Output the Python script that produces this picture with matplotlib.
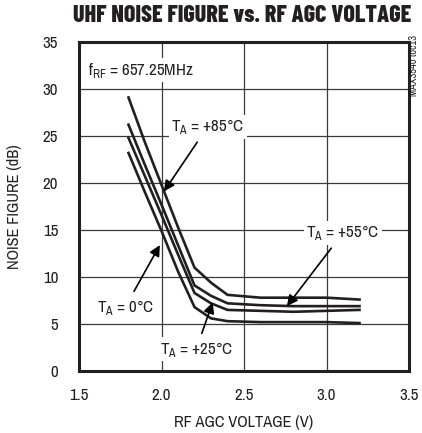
import matplotlib
matplotlib.use("Agg")
import matplotlib.pyplot as plt

body = ["Archivo Narrow", "DejaVu Sans"]
plt.rcParams['font.family'] = body
plt.rcParams['mathtext.fontset'] = 'custom'
plt.rcParams['mathtext.rm'] = 'Archivo Narrow'

x = [1.8, 1.9, 2.0, 2.1, 2.2, 2.3, 2.4, 2.6, 2.8, 3.0, 3.2]
nf_85 = [29.1, 24.3, 19.8, 15.3, 11.0, 9.4, 8.1, 7.8, 7.8, 7.8, 7.6]
nf_55 = [26.2, 21.9, 17.7, 13.4, 9.1, 8.0, 7.2, 7.0, 6.9, 6.9, 6.9]
nf_25 = [24.8, 20.7, 16.6, 12.4, 8.3, 7.2, 6.5, 6.4, 6.3, 6.4, 6.5]
nf_0 = [23.2, 19.0, 14.9, 10.6, 6.8, 5.6, 5.3, 5.2, 5.2, 5.2, 5.1]

xticks = [1.5, 2.0, 2.5, 3.0, 3.5]
xticklabels = ["1.5", "2.0", "2.5", "3.0", "3.5"]
yticks = [0, 5, 10, 15, 20, 25, 30, 35]

ink = "#231f20"
fs = 12.2
fig = plt.figure(figsize=(4.22, 4.33), dpi=100)
ax = fig.add_axes([79/422, 1-371/433, 330/422, 329/433])

for y in (nf_85, nf_55, nf_25, nf_0):
    ax.plot(x, y, color=ink, lw=1.9, solid_joinstyle="round", zorder=3)

ax.set_xlim(1.5, 3.5)
ax.set_ylim(0, 35)
ax.set_xticks(xticks)
ax.set_xticklabels(xticklabels)
ax.set_yticks(yticks)
ax.grid(True, color="#3a3a3a", lw=0.9, zorder=0)
ax.set_axisbelow(True)
ax.tick_params(length=0, labelsize=fs, colors=ink)
ax.tick_params(axis="y", pad=15)
ax.tick_params(axis="x", pad=12)
for s in ax.spines.values():
    s.set_linewidth(2.2)
    s.set_color(ink)

ax.set_xlabel("RF AGC VOLTAGE (V)", fontsize=11.8, labelpad=9, color=ink)
ax.set_ylabel("NOISE FIGURE (dB)", fontsize=11.8, labelpad=15, color=ink)
fig.text(242/422, 1-16/433, "UHF NOISE FIGURE vs. RF AGC VOLTAGE", ha="center", va="center",
         fontsize=17.3, fontweight=800, family=["Barlow Condensed", "DejaVu Sans"], color=ink)
fig.text(414/422, 1-66/433, "MAX3540 toc13", rotation=90, ha="center", va="center",
         fontsize=7.5, color=ink)

box = dict(boxstyle="square,pad=0.15", fc="white", ec="none")
ax.text(1.555, 32.0, r"f$_{\mathrm{RF}}$ = 657.25MHz", fontsize=fs, ha="left", va="center",
        bbox=box, zorder=4, color=ink)

arrow = dict(arrowstyle="-|>", color="black", lw=1.2, mutation_scale=16, shrinkA=3, shrinkB=0)
kw = dict(fontsize=fs, ha="center", va="center", bbox=box, arrowprops=arrow, zorder=5, color=ink)
ax.annotate(r"T$_{\mathrm{A}}$ = +85°C", xy=(2.015, 19.1), xytext=(2.28, 26.0), **kw)
ax.annotate(r"T$_{\mathrm{A}}$ = +55°C", xy=(2.76, 6.9), xytext=(3.10, 14.7), **kw)
ax.annotate(r"T$_{\mathrm{A}}$ = 0°C", xy=(1.99, 13.4), xytext=(1.78, 6.8), **kw)
ax.annotate(r"T$_{\mathrm{A}}$ = +25°C", xy=(2.31, 7.3), xytext=(2.21, 2.3), **kw)

fig.savefig("out.png", dpi=100)
